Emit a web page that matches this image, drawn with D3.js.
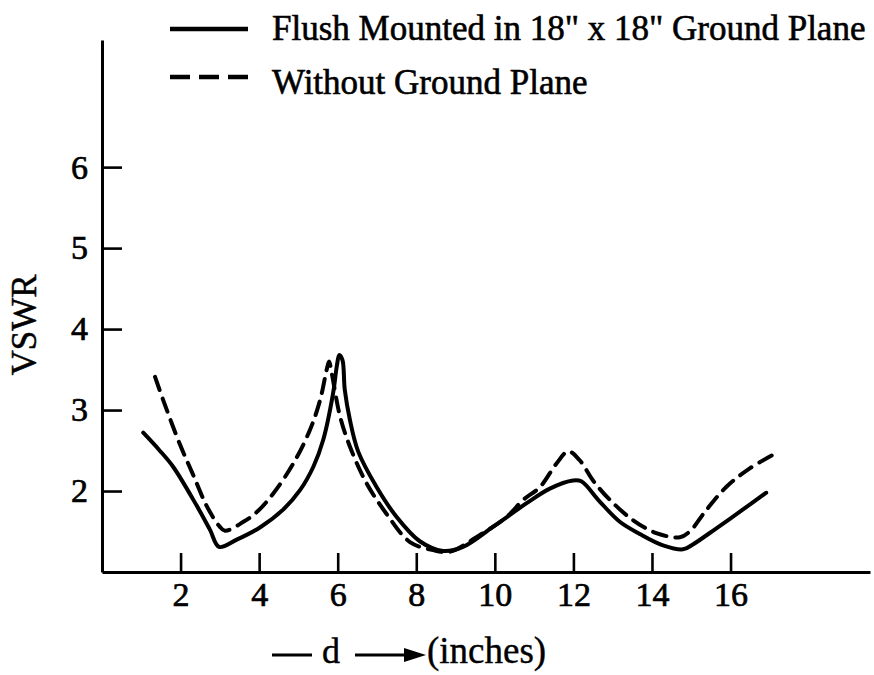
<!DOCTYPE html>
<html>
<head>
<meta charset="utf-8">
<script src="https://cdn.jsdelivr.net/npm/d3@7"></script>
<style>
  body { margin: 0; background: #fff; }
  text { font-family: "Liberation Serif", "DejaVu Serif", serif; fill: #000; }
</style>
</head>
<body>
<div id="chart"></div>
<script>
// distance d (inches) and VSWR
const flushD = [1.05, 1.45, 1.81, 2.41, 2.75, 2.98, 3.43, 4.02, 4.61, 5.04, 5.38, 5.63, 5.88, 5.98, 6.04, 6.12, 6.18, 6.31, 6.52, 6.99, 7.50, 8.09, 8.68, 9.19, 9.96, 10.81, 11.40, 11.99, 12.20, 12.67, 13.18, 13.69, 14.28, 14.79, 15.04, 15.64, 16.31, 16.91];
const flushV = [2.72, 2.51, 2.30, 1.82, 1.52, 1.31, 1.40, 1.55, 1.77, 2.01, 2.30, 2.63, 3.20, 3.55, 3.68, 3.62, 3.25, 2.88, 2.49, 2.05, 1.68, 1.38, 1.26, 1.31, 1.56, 1.85, 2.03, 2.13, 2.12, 1.87, 1.62, 1.47, 1.33, 1.28, 1.34, 1.54, 1.77, 1.98];

const noPlaneD = [1.35, 1.56, 1.98, 2.32, 2.66, 2.98, 3.13, 3.60, 3.94, 4.36, 4.87, 5.29, 5.55, 5.72, 5.78, 5.85, 6.06, 6.31, 6.73, 7.24, 7.84, 8.43, 8.85, 9.53, 10.30, 10.72, 11.15, 11.57, 11.87, 12.16, 12.50, 12.93, 13.52, 14.11, 14.71, 14.96, 15.39, 15.89, 16.49, 17.17];
const noPlaneV = [3.41, 3.12, 2.58, 2.20, 1.82, 1.57, 1.51, 1.62, 1.74, 1.97, 2.34, 2.75, 3.12, 3.50, 3.60, 3.45, 2.92, 2.55, 2.10, 1.72, 1.37, 1.27, 1.25, 1.43, 1.68, 1.89, 2.05, 2.34, 2.49, 2.38, 2.13, 1.89, 1.64, 1.48, 1.43, 1.50, 1.77, 2.05, 2.28, 2.47];

const xTicks = [2, 4, 6, 8, 10, 12, 14, 16];
const yTicks = [2, 3, 4, 5, 6];

const legendLabels = ["Flush Mounted in 18\" x 18\" Ground Plane", "Without Ground Plane"];
const yLabel = "VSWR";
const xLabelVar = "d";
const xLabelUnit = "(inches)";

const width = 874;
const height = 675;

const svg = d3
  .select("#chart")
  .append("svg")
  .attr("width", width)
  .attr("height", height);

const x = d3.scaleLinear().domain([0, 19.55]).range([102, 870]);
const y = d3.scaleLinear().domain([1, 7.57]).range([572, 40]);

// axes with ticks pointing inward
const xAxis = svg
  .append("g")
  .attr("transform", `translate(0,${y(1)})`)
  .call(
    d3.axisBottom(x).tickValues(xTicks).tickSizeInner(-19).tickSizeOuter(0).tickPadding(10)
  );

const yAxis = svg
  .append("g")
  .attr("transform", `translate(${x(0)},0)`)
  .call(
    d3.axisLeft(y).tickValues(yTicks).tickFormat(d3.format("d"))
      .tickSizeInner(-20).tickSizeOuter(0).tickPadding(14)
  );

[xAxis, yAxis].forEach((a) => {
  a.select(".domain").attr("stroke", "#000").attr("stroke-width", 3);
  a.selectAll(".tick line").attr("stroke", "#000").attr("stroke-width", 2.6);
  a.selectAll(".tick text")
    .style("font-family", "'Liberation Serif', serif")
    .style("font-size", "34px")
    .attr("fill", "#000")
    .attr("stroke", "#000")
    .attr("stroke-width", 0.7);
});
xAxis.selectAll(".tick text").attr("dy", "0.72em");

const line = d3
  .line()
  .x((d) => x(d[0]))
  .y((d) => y(d[1]))
  .curve(d3.curveCatmullRom.alpha(0.5));

svg.append("path")
  .datum(flushD.map((d, i) => [d, flushV[i]]))
  .attr("d", line)
  .attr("fill", "none")
  .attr("stroke", "#000")
  .attr("stroke-width", 4)
  .attr("stroke-linecap", "round")
  .attr("stroke-linejoin", "round");

svg.append("path")
  .datum(noPlaneD.map((d, i) => [d, noPlaneV[i]]))
  .attr("d", line)
  .attr("fill", "none")
  .attr("stroke", "#000")
  .attr("stroke-width", 4)
  .attr("stroke-dasharray", "14 9")
  .attr("stroke-linecap", "round");

// legend
const legend = svg.append("g");
legendLabels.forEach((label, i) => {
  const ly = 29 + i * 48;
  legend.append("line")
    .attr("x1", 170).attr("x2", 248)
    .attr("y1", ly).attr("y2", ly)
    .attr("stroke", "#000")
    .attr("stroke-width", 4.5)
    .attr("stroke-dasharray", i === 0 ? null : "20 9");
  legend.append("text")
    .attr("x", 272)
    .attr("y", 40 + i * 54)
    .style("font-size", "35px")
    .attr("stroke", "#000")
    .attr("stroke-width", 0.6)
    .text(label);
});

// y axis title
svg.append("text")
  .attr("transform", "translate(36,325) rotate(-90)")
  .attr("text-anchor", "middle")
  .style("font-size", "35px")
  .attr("stroke", "#000")
  .attr("stroke-width", 0.5)
  .text(yLabel);

// x axis title: — d ——► (inches)
const title = svg.append("g");
title.append("line")
  .attr("x1", 272).attr("x2", 312)
  .attr("y1", 655).attr("y2", 655)
  .attr("stroke", "#000").attr("stroke-width", 3);
title.append("text")
  .attr("x", 322).attr("y", 663)
  .style("font-size", "36px")
  .attr("stroke", "#000")
  .attr("stroke-width", 0.4)
  .text(xLabelVar);
title.append("line")
  .attr("x1", 355).attr("x2", 410)
  .attr("y1", 655).attr("y2", 655)
  .attr("stroke", "#000").attr("stroke-width", 3);
title.append("path")
  .attr("d", "M404,648 L426,655 L404,662 Z")
  .attr("fill", "#000");
title.append("text")
  .attr("x", 427).attr("y", 663)
  .style("font-size", "37px")
  .attr("stroke", "#000")
  .attr("stroke-width", 0.4)
  .text(xLabelUnit);
</script>
</body>
</html>
